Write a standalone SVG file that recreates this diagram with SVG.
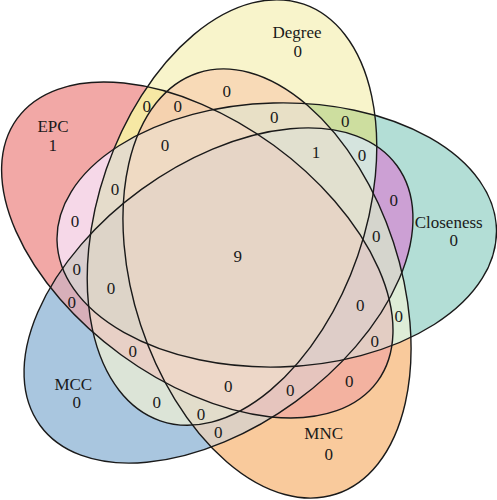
<svg xmlns="http://www.w3.org/2000/svg" width="497" height="500" viewBox="0 0 497 500">
<style>
.o{fill:none;stroke:#1a1a1a;stroke-width:1.4}
text{font-family:"Liberation Serif","Times New Roman",serif;font-size:17px;fill:#1a1a1a;text-anchor:middle}
</style>
<defs>
<ellipse id="eE" cx="197.3" cy="250" rx="223" ry="129.6" transform="rotate(36.1 197.3 250)"/>
<ellipse id="eD" cx="232" cy="212.5" rx="220.3" ry="133" transform="rotate(-71 232 212.5)"/>
<ellipse id="eC" cx="276.75" cy="235" rx="219.8" ry="132" transform="rotate(-1.5 276.75 235)"/>
<ellipse id="eN" cx="267" cy="283.5" rx="221.6" ry="133" transform="rotate(71.8 267 283.5)"/>
<ellipse id="eM" cx="218.5" cy="295.5" rx="220.7" ry="131.1" transform="rotate(144 218.5 295.5)"/>
<clipPath id="cE"><use href="#eE"/></clipPath>
<clipPath id="cD"><use href="#eD"/></clipPath>
<clipPath id="cC"><use href="#eC"/></clipPath>
<clipPath id="cN"><use href="#eN"/></clipPath>
<clipPath id="cM"><use href="#eM"/></clipPath>
</defs>
<rect width="497" height="500" fill="#fff"/>
<g id="regions">
<use href="#eE" fill="#F2A8A6"/>
<use href="#eD" fill="#F8F4CB"/>
<use href="#eC" fill="#B3DED6"/>
<use href="#eN" fill="#F9CA9C"/>
<use href="#eM" fill="#A9C6DF"/>
<g clip-path="url(#cD)"><use href="#eE" fill="#F6E8A4"/></g>
<g clip-path="url(#cD)"><use href="#eN" fill="#F8DAB7"/></g>
<g clip-path="url(#cC)"><use href="#eE" fill="#F6D8E8"/></g>
<g clip-path="url(#cD)"><use href="#eC" fill="#CDDE9F"/></g>
<g clip-path="url(#cC)"><use href="#eM" fill="#CCA0D4"/></g>
<g clip-path="url(#cM)"><use href="#eE" fill="#D7AFB9"/></g>
<g clip-path="url(#cD)"><use href="#eM" fill="#DCE4D7"/></g>
<g clip-path="url(#cN)"><use href="#eM" fill="#DDD0C3"/></g>
<g clip-path="url(#cC)"><use href="#eN" fill="#DEEDD7"/></g>
<g clip-path="url(#cN)"><use href="#eE" fill="#F3B2A0"/></g>
<g clip-path="url(#cD)"><g clip-path="url(#cN)"><use href="#eE" fill="#F5D2AF"/></g></g>
<g clip-path="url(#cD)"><g clip-path="url(#cC)"><use href="#eE" fill="#E5DCCB"/></g></g>
<g clip-path="url(#cD)"><g clip-path="url(#cC)"><use href="#eN" fill="#E8E0C6"/></g></g>
<g clip-path="url(#cD)"><g clip-path="url(#cC)"><use href="#eM" fill="#D5E4DE"/></g></g>
<g clip-path="url(#cC)"><g clip-path="url(#cN)"><use href="#eM" fill="#D5D5CD"/></g></g>
<g clip-path="url(#cC)"><g clip-path="url(#cM)"><use href="#eE" fill="#D8CDCD"/></g></g>
<g clip-path="url(#cD)"><g clip-path="url(#cM)"><use href="#eE" fill="#E8D0C6"/></g></g>
<g clip-path="url(#cD)"><g clip-path="url(#cN)"><use href="#eM" fill="#E2DDCB"/></g></g>
<g clip-path="url(#cC)"><g clip-path="url(#cN)"><use href="#eE" fill="#E3CDC3"/></g></g>
<g clip-path="url(#cN)"><g clip-path="url(#cM)"><use href="#eE" fill="#E6C5BE"/></g></g>
<g clip-path="url(#cD)"><g clip-path="url(#cC)"><g clip-path="url(#cN)"><use href="#eE" fill="#EFDAC3"/></g></g></g>
<g clip-path="url(#cD)"><g clip-path="url(#cC)"><g clip-path="url(#cN)"><use href="#eM" fill="#E1E0CF"/></g></g></g>
<g clip-path="url(#cD)"><g clip-path="url(#cC)"><g clip-path="url(#cM)"><use href="#eE" fill="#DDD4C8"/></g></g></g>
<g clip-path="url(#cD)"><g clip-path="url(#cN)"><g clip-path="url(#cM)"><use href="#eE" fill="#EDD7C8"/></g></g></g>
<g clip-path="url(#cC)"><g clip-path="url(#cN)"><g clip-path="url(#cM)"><use href="#eE" fill="#DECDC8"/></g></g></g>
<g clip-path="url(#cD)"><g clip-path="url(#cC)"><g clip-path="url(#cN)"><g clip-path="url(#cM)"><use href="#eE" fill="#E6D5C6"/></g></g></g></g>
</g>
<g id="connectors">
<use href="#eE" class="o"/>
<use href="#eD" class="o"/>
<use href="#eC" class="o"/>
<use href="#eN" class="o"/>
<use href="#eM" class="o"/>
</g>
<g id="EPC"><text x="53" y="131.7">EPC</text><text x="52.7" y="150.7">1</text></g>
<g id="Degree"><text x="297" y="38.3">Degree</text><text x="297.7" y="56.7">0</text></g>
<g id="Closeness"><text x="448.7" y="227.7">Closeness</text><text x="453.7" y="245.7">0</text></g>
<g id="MNC"><text x="323.7" y="439">MNC</text><text x="328.7" y="459.7">0</text></g>
<g id="MCC"><text x="73.3" y="390">MCC</text><text x="76.7" y="408">0</text></g>
<g id="counts">
<text x="146.7" y="111.7">0</text><text x="177.7" y="112.4">0</text><text x="226.7" y="96.7">0</text>
<text x="165" y="151.4">0</text><text x="115" y="194.7">0</text><text x="75" y="226.7">0</text>
<text x="274.3" y="123">0</text><text x="345.3" y="127.4">0</text><text x="316" y="158.4">1</text>
<text x="362" y="161.4">0</text><text x="393.7" y="205.7">0</text><text x="376.3" y="242.4">0</text>
<text x="237.7" y="261.7">9</text><text x="76.7" y="275">0</text><text x="111" y="294">0</text>
<text x="71.7" y="308">0</text><text x="132.7" y="356.7">0</text><text x="156.7" y="408">0</text>
<text x="228.3" y="392.4">0</text><text x="201" y="419.7">0</text><text x="218.3" y="438">0</text>
<text x="360.3" y="311.4">0</text><text x="398.7" y="322.4">0</text><text x="374.7" y="347.4">0</text>
<text x="349.3" y="387.4">0</text><text x="290.3" y="395.7">0</text>
</g>
</svg>
